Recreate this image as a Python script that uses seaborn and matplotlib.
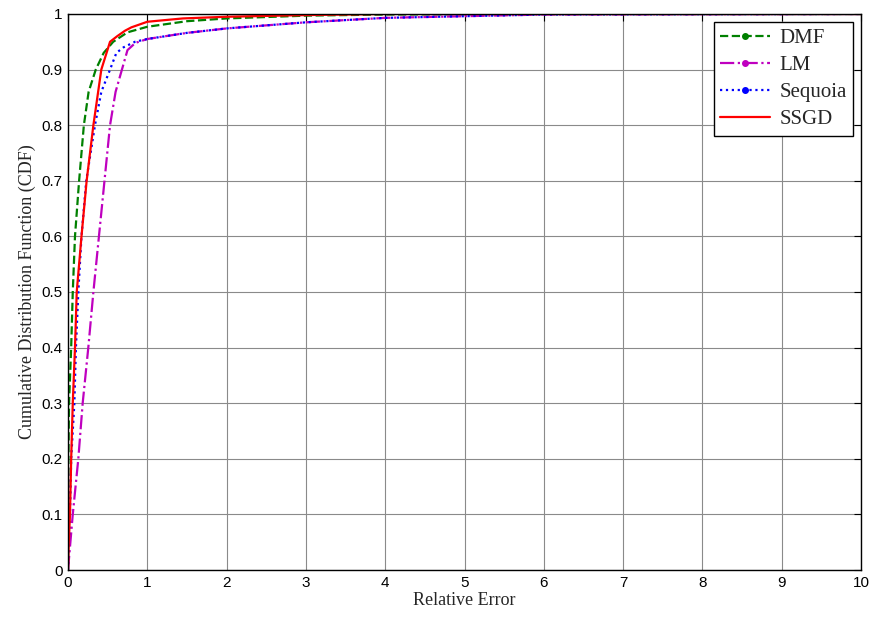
import matplotlib
matplotlib.use("Agg")
import matplotlib.pyplot as plt
from matplotlib.lines import Line2D
import numpy as np
import pandas as pd
import seaborn as sns

# CDF of relative error for each method (x = relative error, y = cumulative fraction)
dmf_x = [0, 0.005, 0.013, 0.04, 0.06, 0.088, 0.14, 0.2, 0.26, 0.35, 0.45, 0.57, 0.75, 1.0, 1.5, 2.0, 3.0, 4.0, 6.0, 10]
dmf_y = [0, 0.2, 0.3, 0.4, 0.5, 0.6, 0.7, 0.8, 0.86, 0.9, 0.93, 0.95, 0.967, 0.977, 0.987, 0.992, 0.997, 0.999, 1.0, 1.0]

lm_x = [0, 0.03, 0.06, 0.13, 0.185, 0.256, 0.32, 0.39, 0.46, 0.53, 0.6, 0.68, 0.75, 0.85, 1.0, 1.5, 2.0, 3.0, 4.0, 5.0, 6.0, 10]
lm_y = [0, 0.05, 0.1, 0.2, 0.3, 0.4, 0.5, 0.6, 0.7, 0.8, 0.86, 0.9, 0.935, 0.948, 0.955, 0.966, 0.974, 0.985, 0.993, 0.996, 0.999, 1.0]

seq_x = [0, 0.01, 0.025, 0.04, 0.08, 0.1, 0.13, 0.17, 0.23, 0.34, 0.42, 0.53, 0.61, 0.7, 0.845, 1.0, 1.5, 2.0, 3.0, 4.0, 5.0, 6.0, 10]
seq_y = [0, 0.05, 0.1, 0.2, 0.3, 0.4, 0.5, 0.6, 0.7, 0.8, 0.86, 0.9, 0.93, 0.94, 0.95, 0.955, 0.966, 0.974, 0.985, 0.993, 0.996, 0.999, 1.0]

ssgd_x = [0, 0.01, 0.025, 0.04, 0.06, 0.088, 0.11, 0.17, 0.235, 0.32, 0.42, 0.53, 0.62, 0.72, 0.8, 1.0, 1.45, 2.0, 3.0, 4.0, 10]
ssgd_y = [0, 0.05, 0.1, 0.2, 0.3, 0.4, 0.5, 0.6, 0.7, 0.8, 0.9, 0.95, 0.96, 0.97, 0.976, 0.986, 0.992, 0.995, 0.998, 1.0, 1.0]

methods = ["DMF", "LM", "Sequoia", "SSGD"]
series = {
    "DMF": (dmf_x, dmf_y),
    "LM": (lm_x, lm_y),
    "Sequoia": (seq_x, seq_y),
    "SSGD": (ssgd_x, ssgd_y),
}
colors = {"DMF": "#008000", "LM": "#BF00BF", "Sequoia": "#0000FF", "SSGD": "#FF0000"}
styles = {"DMF": "--", "LM": "-.", "Sequoia": ":", "SSGD": "-"}
has_marker = {"DMF": True, "LM": True, "Sequoia": True, "SSGD": False}

sns.set_style("white")
plt.rcParams["font.family"] = ["Liberation Sans", "DejaVu Sans"]

fig = plt.figure(figsize=(8.73, 6.21), dpi=100)
ax = fig.add_axes([0.0779, 0.0821, 0.9084, 0.8954])

for m in methods:
    xs, ys = series[m]
    df = pd.DataFrame({"x": xs, "y": ys})
    sns.lineplot(data=df, x="x", y="y", ax=ax, color=colors[m], linestyle=styles[m],
                 linewidth=1.6, sort=False, estimator=None, legend=False)

ax.set_xlim(0, 10)
ax.set_ylim(0, 1)
ax.set_xticks(np.arange(0, 11, 1))
ax.set_yticks(np.round(np.arange(0, 1.01, 0.1), 1))
ax.set_yticklabels(["0", "0.1", "0.2", "0.3", "0.4", "0.5", "0.6", "0.7", "0.8", "0.9", "1"])
ax.grid(True, color="#8a8a8a", linewidth=0.8)
ax.tick_params(direction="in", top=True, right=True, length=5, width=0.8,
               labelsize=11, colors="black", pad=4)
for s in ax.spines.values():
    s.set_visible(True)
    s.set_color("black")
    s.set_linewidth(1.0)

serif = ["Liberation Serif", "DejaVu Serif"]
ax.set_xlabel("Relative Error", fontsize=13, family=serif, labelpad=2)
ax.set_ylabel("Cumulative Distribution Function (CDF)", fontsize=13, family=serif, labelpad=4)

handles = [Line2D([], [], color=colors[m], linestyle=styles[m], linewidth=1.6,
                  marker="o" if has_marker[m] else None, markersize=4)
           for m in methods]
leg = ax.legend(handles, methods, loc="upper right", bbox_to_anchor=(0.99, 0.985),
                prop={"family": serif, "size": 15}, frameon=True, fancybox=False,
                edgecolor="black", framealpha=1, borderpad=0.3, labelspacing=0.36,
                handlelength=2.4, handletextpad=0.45, borderaxespad=0)
leg.get_frame().set_linewidth(1.0)

fig.savefig("out.png", dpi=100, facecolor="white")
